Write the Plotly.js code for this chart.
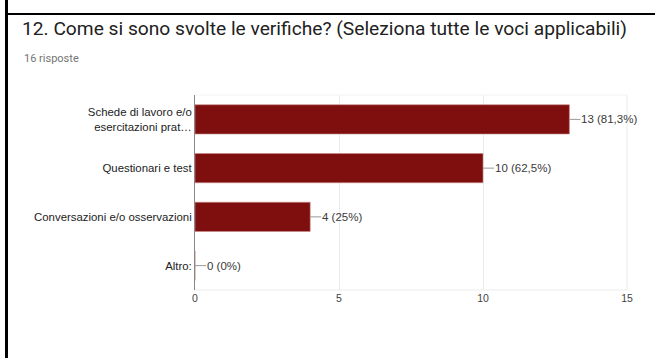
<!DOCTYPE html>
<html>
<head>
<meta charset="utf-8">
<script src="https://cdn.plot.ly/plotly-3.0.1.min.js"></script>
<style>
  html, body { margin: 0; padding: 0; background: #fff; }
  #wrap { position: relative; width: 660px; height: 358px; overflow: hidden; }
  #chart { width: 660px; height: 358px; }
  .bl { position: absolute; background: #000; }
</style>
</head>
<body>
<div id="wrap">
  <div id="chart"></div>
  <div class="bl" style="left:5px; top:0; width:3px; height:358px;"></div>
  <div class="bl" style="left:5px; top:13px; width:650px; height:2px;"></div>
</div>
<script>
const categories = [
  "Schede di lavoro e/o<br>esercitazioni prat…",
  "Questionari e test",
  "Conversazioni e/o osservazioni",
  "Altro:"
];
const counts = [13, 10, 4, 0];
const valueLabels = ["13 (81,3%)", "10 (62,5%)", "4 (25%)", "0 (0%)"];
const xTicks = [0, 5, 10, 15];

const W = 660, H = 358;
const mL = 195, mR = 33, mT = 95, mB = 68;
const pw = W - mL - mR;

const trace = {
  type: 'bar',
  orientation: 'h',
  x: counts,
  y: categories,
  width: 0.6,
  marker: { color: '#7f0f0f', line: { color: '#c98a8a', width: 0.6 } },
  hoverinfo: 'skip'
};

const annotations = categories.map((c, i) => ({
  x: counts[i], y: c, xref: 'x', yref: 'y',
  text: valueLabels[i],
  showarrow: true, arrowhead: 0, arrowwidth: 1, arrowcolor: '#999',
  ax: 11, ay: 0, standoff: 0, xanchor: 'left', borderpad: 0,
  font: { family: 'Liberation Sans, Arial, sans-serif', size: 11.5, color: '#3a3a3a' }
}));

annotations.push({
  xref: 'paper', yref: 'paper',
  x: (22 - mL) / pw, y: 1 + (mT - 58) / (H - mT - mB),
  xanchor: 'left', yanchor: 'middle', showarrow: false,
  text: '16 risposte',
  font: { family: 'Roboto, sans-serif', size: 11, color: '#757575' }
});

const layout = {
  width: W, height: H,
  margin: { l: mL, r: mR, t: mT, b: mB, pad: 0 },
  paper_bgcolor: '#fff', plot_bgcolor: '#fff',
  showlegend: false,
  title: {
    text: '12. Come si sono svolte le verifiche? (Seleziona tutte le voci applicabili)',
    xref: 'container', yref: 'container',
    x: 22 / W, xanchor: 'left',
    y: 1 - 22 / H, yanchor: 'top',
    font: { family: 'Roboto, sans-serif', size: 19.2, color: '#212121' }
  },
  xaxis: {
    range: [0, 15], tickvals: xTicks, ticktext: xTicks.map(String),
    showgrid: true, gridcolor: '#ebebeb', gridwidth: 1,
    zeroline: false, showline: false, ticks: '',
    tickfont: { family: 'Liberation Sans, Arial, sans-serif', size: 10.5, color: '#444' },
    fixedrange: true
  },
  yaxis: {
    autorange: 'reversed', type: 'category',
    showgrid: false, zeroline: false,
    showline: true, linecolor: '#888', linewidth: 1,
    ticks: '', ticklabelstandoff: 0,
    tickfont: { family: 'Liberation Sans, Arial, sans-serif', size: 11.4, color: '#222' },
    fixedrange: true
  },
  shapes: [{
    type: 'line', xref: 'paper', yref: 'paper', x0: 1, x1: 1, y0: 0, y1: 1,
    line: { color: '#ebebeb', width: 1 }
  }, {
    type: 'line', xref: 'paper', yref: 'paper', x0: 0, x1: 1, y0: 1, y1: 1,
    line: { color: '#f3f3f3', width: 1 }
  }, {
    type: 'line', xref: 'paper', yref: 'paper', x0: 0, x1: 1, y0: 0, y1: 0,
    line: { color: '#ebebeb', width: 1 }
  }],
  annotations: annotations
};

Plotly.newPlot('chart', [trace], layout, { displayModeBar: false, staticPlot: true });
</script>
</body>
</html>
